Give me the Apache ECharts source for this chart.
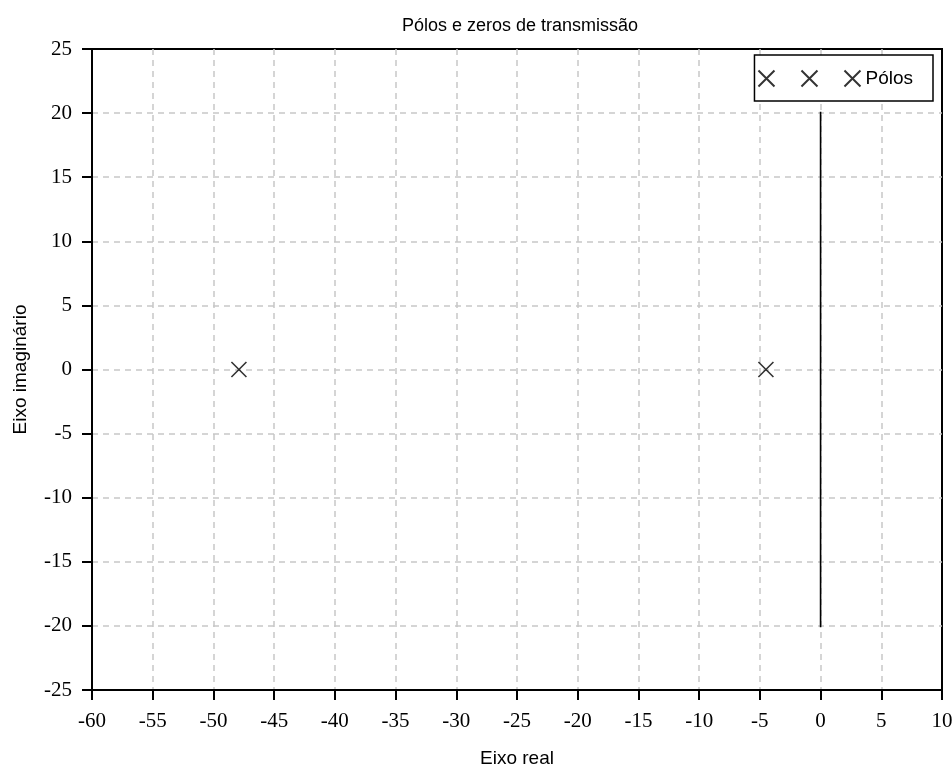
<!DOCTYPE html>
<html>
<head>
<meta charset="utf-8">
<script src="https://cdn.jsdelivr.net/npm/echarts@6/dist/echarts.min.js"></script>
<style>
  html, body { margin: 0; padding: 0; background: #fff; }
  #chart { width: 952px; height: 769px; }
</style>
</head>
<body>
<div id="chart"></div>
<script>
// polos do sistema (parte real, parte imaginaria)
const poles = [[-47.9, 0], [-4.5, 0]]
// linha vertical no eixo imaginario
const imagLine = [[0, -20.1], [0, 20.1]]

const crossPath = 'path://M0,0L10,10M10,0L0,10'
const serif = 'Liberation Serif'
const sans = 'Liberation Sans'

const chart = echarts.init(document.getElementById('chart'))

const crossStyle = { color: 'transparent', borderColor: '#000', borderWidth: 1.6 }

chart.setOption({
  animation: false,
  title: {
    text: 'Pólos e zeros de transmissão',
    left: 515,
    top: 12,
    textAlign: 'center',
    textStyle: { fontFamily: sans, fontSize: 18, fontWeight: 'normal', color: '#000' }
  },
  legend: {
    right: 19,
    top: 55,
    orient: 'horizontal',
    itemWidth: 16,
    itemHeight: 16,
    itemGap: 25,
    padding: [14, 20, 13, 3],
    borderColor: '#000',
    borderWidth: 1.5,
    borderRadius: 0,
    backgroundColor: '#fff',
    data: ['a', 'b', 'Pólos'],
    formatter: function(name) {
      return name === 'Pólos' ? 'Pólos' : ''
    },
    textStyle: { fontFamily: sans, fontSize: 19, color: '#000' }
  },
  grid: {
    left: 92,
    right: 10,
    top: 49,
    bottom: 79,
    outerBoundsMode: 'none',
    show: true,
    borderColor: '#000',
    borderWidth: 2
  },
  xAxis: {
    type: 'value',
    min: -60,
    max: 10,
    interval: 5,
    name: 'Eixo real',
    nameLocation: 'middle',
    nameGap: 59,
    nameTextStyle: { fontFamily: sans, fontSize: 19, color: '#000' },
    axisLine: { onZero: false, lineStyle: { color: '#000', width: 2 } },
    axisTick: { length: 10, lineStyle: { color: '#000', width: 2 } },
    axisLabel: { fontFamily: serif, fontSize: 21, color: '#000', margin: 21 },
    splitLine: {
      showMinLine: false,
      showMaxLine: false,
      lineStyle: { color: '#c8c8c8', type: [6, 5], width: 1.5 }
    }
  },
  yAxis: {
    type: 'value',
    min: -25,
    max: 25,
    interval: 5,
    name: 'Eixo imaginário',
    nameLocation: 'middle',
    nameGap: 62,
    nameTextStyle: { fontFamily: sans, fontSize: 19, color: '#000' },
    axisLine: { onZero: false, lineStyle: { color: '#000', width: 2 } },
    axisTick: { length: 10, lineStyle: { color: '#000', width: 2 } },
    axisLabel: { fontFamily: serif, fontSize: 21, color: '#000', margin: 20 },
    splitLine: {
      showMinLine: false,
      showMaxLine: false,
      lineStyle: { color: '#c8c8c8', type: [6, 5], width: 1.5 }
    }
  },
  series: [{
    name: 'a',
    type: 'scatter',
    data: [],
    symbol: crossPath,
    symbolSize: 15,
    itemStyle: crossStyle
  }, {
    name: 'b',
    type: 'scatter',
    data: [],
    symbol: crossPath,
    symbolSize: 15,
    itemStyle: crossStyle
  }, {
    name: 'Pólos',
    type: 'scatter',
    data: poles,
    symbol: crossPath,
    symbolSize: 15,
    itemStyle: crossStyle,
    z: 5
  }, {
    name: 'linha',
    type: 'line',
    data: imagLine,
    showSymbol: false,
    symbol: 'none',
    lineStyle: { color: '#000', width: 1.6 }
  }]
})
</script>
</body>
</html>
